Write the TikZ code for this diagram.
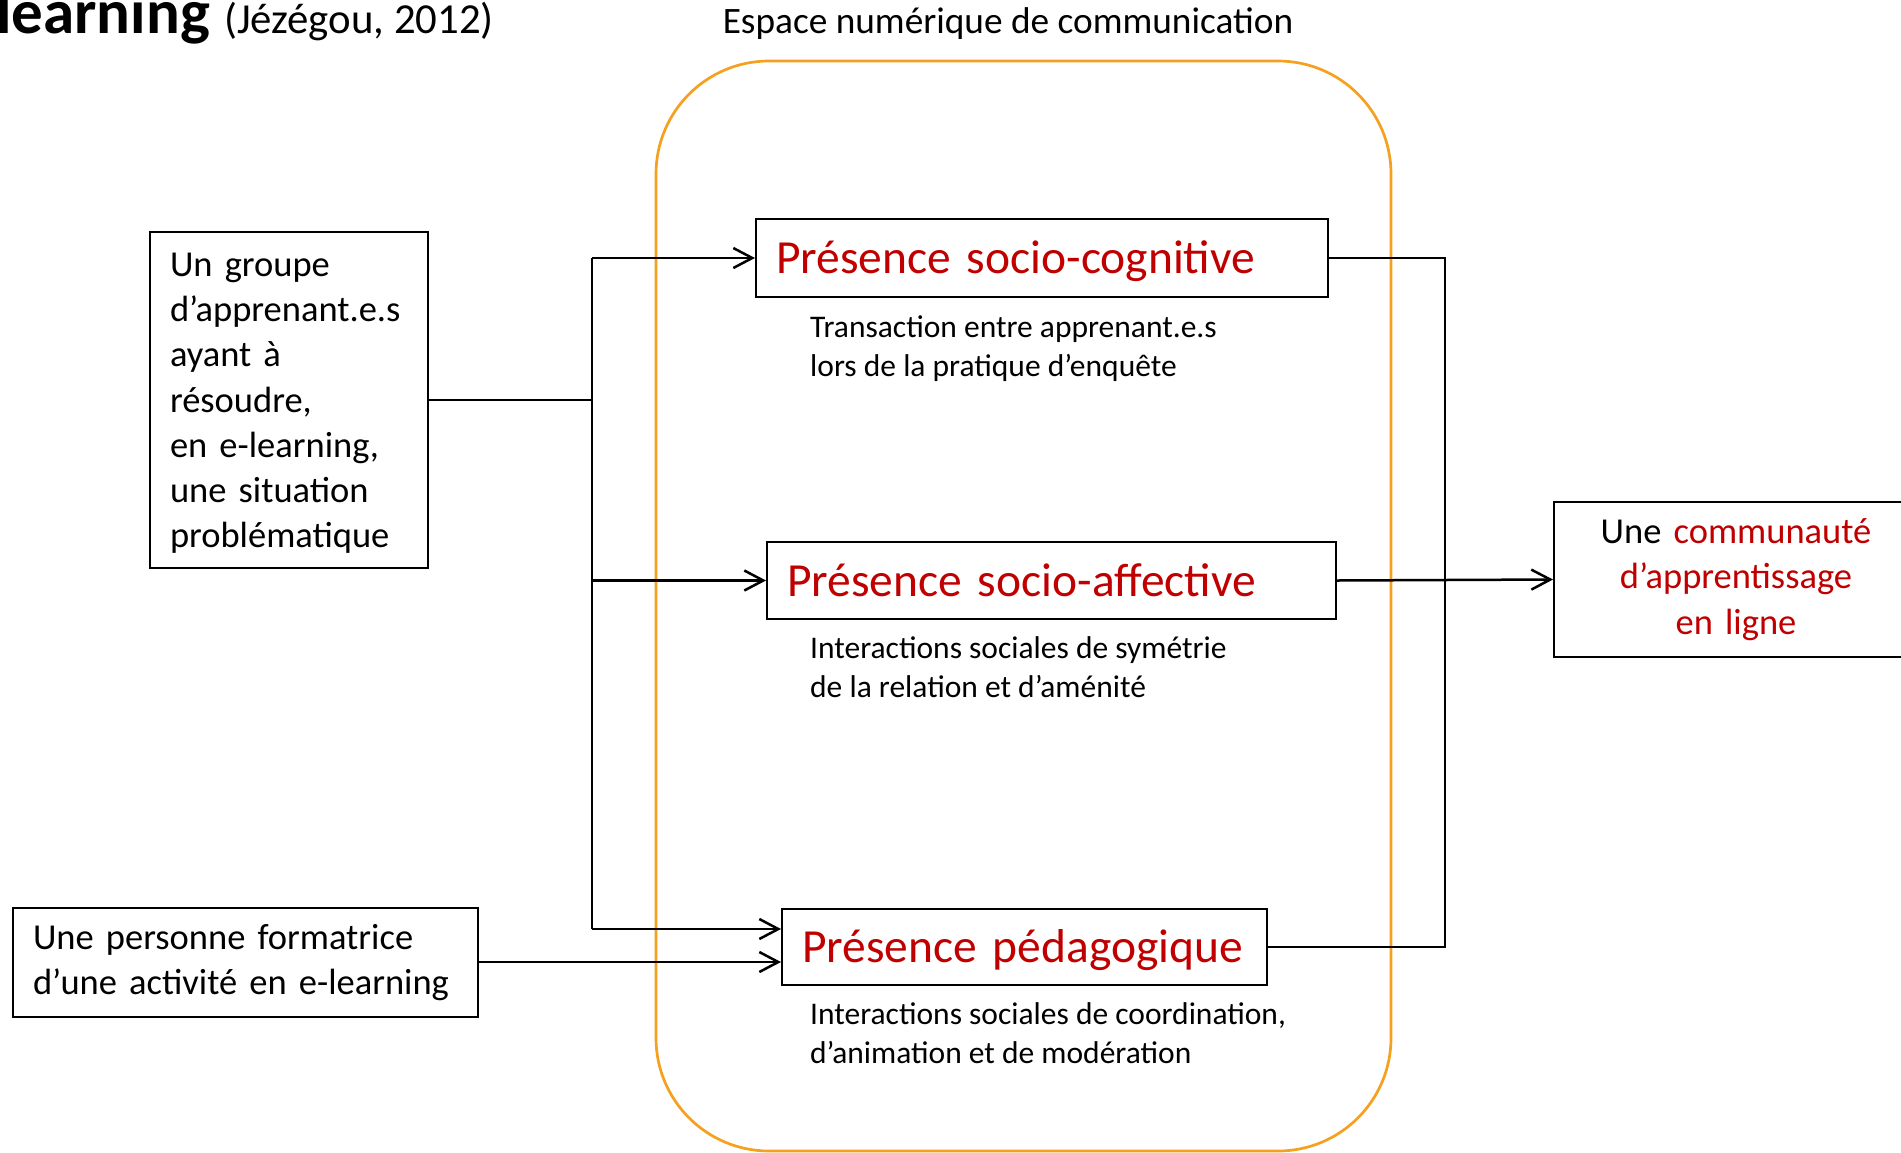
\documentclass[tikz,border=0pt]{standalone}
\usepackage{fontspec}
\setmainfont{Carlito}
\usetikzlibrary{arrows.meta}
\definecolor{jred}{HTML}{C00000}
\definecolor{jorange}{RGB}{245,160,30}
\newcommand\fsBody{\fontsize{36.5}{45.3}\selectfont}
\newcommand\fsEsp{\fontsize{37.3}{45.3}\selectfont}
\newcommand\fsSub{\fontsize{31.5}{39.5}\selectfont}
\newcommand\fsPres{\fontsize{47.5}{57}\selectfont}
\newcommand\fsTitle{\fontsize{63}{72}\selectfont}
\newcommand\fsRef{\fontsize{42.8}{50}\selectfont}
\tikzset{
  box/.style={draw, line width=2pt, anchor=north west, inner ysep=0pt, inner xsep=20pt, font=\fsBody},
  presbox/.style={box, font=\fsPres, text=jred, align=left, text height=31pt, text depth=0pt},
  subtext/.style={anchor=base west, inner sep=0pt, align=left, font=\fsSub},
  conn/.style={line width=2.5pt},
  arr/.style={conn, -{Straight Barb[length=19pt, width=20pt, line width=2.5pt]}},
}
\begin{document}
\begin{tikzpicture}[x=1pt, y=-1pt]
\useasboundingbox (0,0) rectangle (1901,1152);
\clip (0,0) rectangle (1901,1152);
% title
\node[anchor=base west, inner sep=0pt] (title) at (-4,33) {\fsTitle\bfseries learning\ \fsRef\mdseries(Jézégou, 2012)};
\node[anchor=base, inner sep=0pt, font=\fsEsp] (espace) at (1008,33) {Espace numérique de communication};
% communication space
\draw[jorange, line width=2.7pt, rounded corners=113pt] (656,61) rectangle (1391,1151);
% boxes
\node[box, minimum width=278pt, minimum height=336pt, text width=238pt, align=left] (groupe) at (149,231)
  {\rule{0pt}{30pt}Un groupe\\d’apprenant.e.s\\ayant à\\résoudre,\\en e-learning,\\une situation\\problématique};
\node[box, minimum width=464.5pt, minimum height=109pt, text width=424.5pt, align=left] (form) at (12,907)
  {Une personne formatrice\\d’une activité en e-learning};
\node[box, minimum width=364pt, minimum height=155pt, text width=324pt, align=center] (comm) at (1553,501)
  {Une \textcolor{jred}{communauté}\\\textcolor{jred}{d’apprentissage}\\\textcolor{jred}{en ligne}};
\node[presbox, minimum width=572pt, minimum height=78pt, text width=532pt] (cog) at (755,218) {Présence socio-cognitive};
\node[presbox, minimum width=569pt, minimum height=77pt, text width=529pt] (aff) at (766,541) {Présence socio-affective};
\node[presbox, minimum width=485pt, minimum height=76pt, text width=445pt] (ped) at (781,908) {Présence pédagogique};
% sub texts (anchored at the baseline of their last line)
\node[subtext] (subcog) at (810,376.5) {Transaction entre apprenant.e.s\\lors de la pratique d’enquête};
\node[subtext] (subaff) at (810,697.5) {Interactions sociales de symétrie\\de la relation et d’aménité};
\node[subtext] (subped) at (810,1063.5) {Interactions sociales de coordination,\\d’animation et de modération};
% connectors
\coordinate (busL) at (592,0);
\coordinate (busR) at (1445,0);
\coordinate (pedIn1) at (781,929);
\coordinate (pedIn2) at (781,962);
\draw[conn] (groupe.east) -- (groupe.east -| busL);
\draw[conn] (busL |- cog.west) -- (busL |- pedIn1);
\draw[arr] (busL |- cog.west) -- (cog.west);
\draw[arr] (busL |- aff.west) -- (aff.west);
\draw[arr] (busL |- pedIn1) -- (pedIn1);
\draw[arr] (form.east |- pedIn2) -- (pedIn2);
\draw[conn] (cog.east) -- (cog.east -| busR) -- (busR |- ped.east) -- (ped.east);
\draw[arr] (aff.east) -- (comm.west);
\end{tikzpicture}
\end{document}
